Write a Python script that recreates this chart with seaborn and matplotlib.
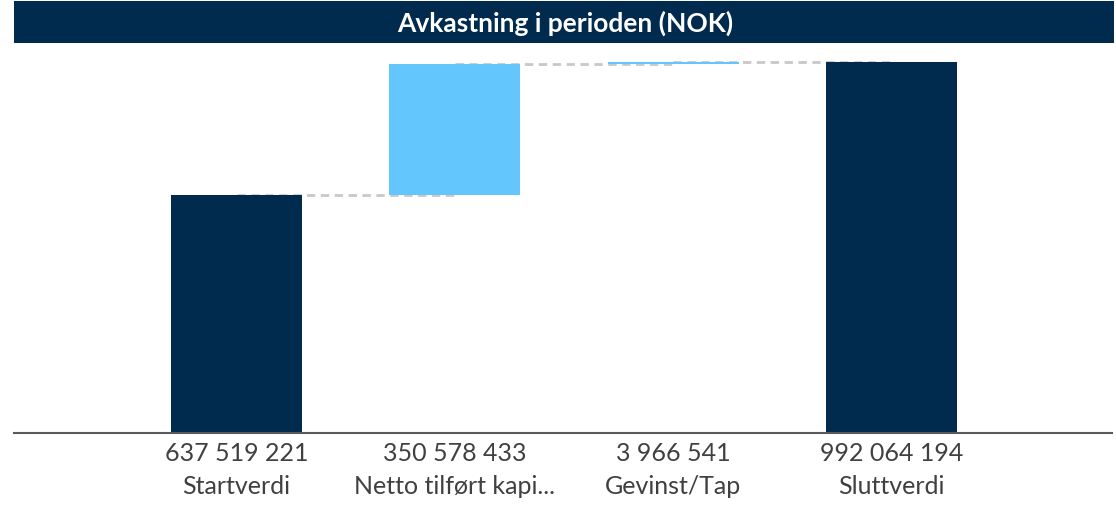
import numpy as np
import pandas as pd
import matplotlib.pyplot as plt
import seaborn as sns
from matplotlib.patches import Rectangle

# Waterfall data (NOK)
categories = ['Startverdi', 'Netto tilført kapi...', 'Gevinst/Tap', 'Sluttverdi']
values = [637519221, 350578433, 3966541, 992064194]
kinds = ['total', 'delta', 'delta', 'total']

NAVY = '#002B4E'
LIGHT = '#63C6FD'


def fmt(v):
    return f"{v:,}".replace(",", " ")


# Build bottoms / heights for the waterfall
bottoms, heights, ends = [], [], []
running = 0
for v, k in zip(values, kinds):
    if k == 'total':
        bottoms.append(0)
        heights.append(v)
        running = v
    else:
        bottoms.append(running)
        heights.append(v)
        running += v
    ends.append(running)

labels = [f"{fmt(v)}\n{c}" for v, c in zip(values, categories)]
df = pd.DataFrame({'label': labels, 'height': heights, 'bottom': bottoms, 'kind': kinds})

sns.set_style("white")
plt.rcParams['font.family'] = ['Lato', 'DejaVu Sans']

fig = plt.figure(figsize=(11.16, 5.10), dpi=100)
ax = fig.add_axes([0.0125, 1 - 434 / 510, 0.984, 390 / 510])

for kind, col in [('total', NAVY), ('delta', LIGHT)]:
    sub = df[df['kind'] == kind]
    sns.barplot(data=sub, x='label', y='height', order=labels, color=col,
                width=0.6, bottom=sub['bottom'].values, saturation=1,
                linewidth=0, ax=ax, zorder=2)

# Dashed connectors between bars
for i in range(len(values) - 1):
    ax.plot([i, i + 1], [ends[i], ends[i]], color='#C8C8C8', linestyle='--',
            linewidth=2, dashes=(3, 2), zorder=1)

ax.set_xlim(-1.02, 4.01)
ax.set_ylim(0, 1043e6)
ax.set_xlabel('')
ax.set_ylabel('')
ax.set_yticks([])
for s in ['top', 'right', 'left']:
    ax.spines[s].set_visible(False)
ax.spines['bottom'].set_color('#595959')
ax.spines['bottom'].set_linewidth(1.5)
ax.tick_params(axis='x', length=0, pad=6, labelsize=18, colors='#404040')
for t in ax.get_xticklabels():
    t.set_linespacing(1.5)

# Title banner
fig.patches.append(Rectangle((14 / 1116, 1 - 44 / 510), 1100 / 1116, 42 / 510,
                             transform=fig.transFigure, facecolor=NAVY,
                             edgecolor='none', zorder=0))
fig.text(565 / 1116, 1 - 23 / 510, 'Avkastning i perioden (NOK)', color='white',
         fontsize=19, fontweight='bold', ha='center', va='center')

plt.savefig('out.png', dpi=100)
